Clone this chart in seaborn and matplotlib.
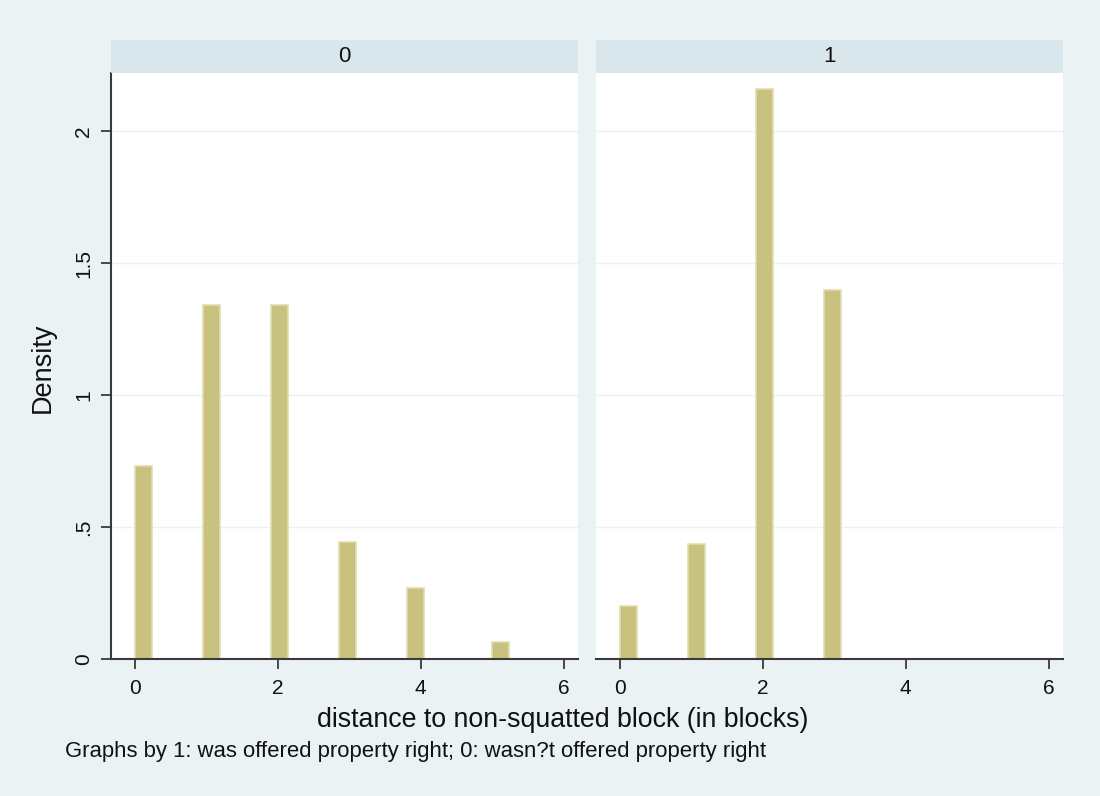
import numpy as np
import pandas as pd
import seaborn as sns
import matplotlib
matplotlib.use("Agg")
import matplotlib.pyplot as plt
from matplotlib.patches import Rectangle

# Density of distance (in blocks) for each offer group
groups = ["0", "0", "0", "0", "0", "0", "1", "1", "1", "1"]
distance = [0, 1, 2, 3, 4, 5, 0, 1, 2, 3]
density = [0.73, 1.342, 1.342, 0.443, 0.269, 0.064, 0.201, 0.437, 2.158, 1.397]

x_ticks = [0, 2, 4, 6]
y_ticks = [0, 0.5, 1, 1.5, 2]
y_tick_labels = ["0", ".5", "1", "1.5", "2"]

df = pd.DataFrame({"group": groups, "distance": distance, "density": density})

BG = "#eaf2f3"
STRIP = "#d9e6eb"
BAR = "#c9c17e"
BAR_EDGE = "#e2ddb0"
AXIS = "#3a3a3a"

sns.set_theme(style="white")
plt.rcParams["font.family"] = ["Liberation Sans", "DejaVu Sans"]

W, H = 1100, 796
fig, axes = plt.subplots(1, 2, figsize=(11, 7.96), dpi=100)
fig.patch.set_facecolor(BG)

panels = [(111, 578), (596, 1063)]
top_px, bot_px = 73, 659
strip_top = 40

# bins of width 5/21 starting at 0; the top value gets its own bin
bw = 5 / 21
n_bins = 22
eps = 1e-6

for i, (ax, (l, r)) in enumerate(zip(axes, panels)):
    key = ["0", "1"][i]
    sub = df[df["group"] == key]
    sns.histplot(data=sub, x="distance", weights="density", stat="count",
                 bins=n_bins, binrange=(-eps, n_bins * bw - eps),
                 color=BAR, edgecolor=BAR_EDGE, linewidth=1.2, alpha=1, ax=ax)

    ax.set_position([l / W, 1 - bot_px / H, (r - l) / W, (bot_px - top_px) / H])
    ax.set_facecolor("white")
    ax.set_xlim(-0.33, 6.2)
    ax.set_ylim(0, 2.22)
    ax.set_xticks(x_ticks)
    ax.set_xticklabels([str(t) for t in x_ticks], fontsize=15)
    ax.set_yticks(y_ticks)
    ax.grid(axis="y", color=BG, linewidth=1.0)
    ax.grid(axis="x", visible=False)
    ax.set_axisbelow(True)
    ax.set_title("")
    ax.set_xlabel("")
    ax.set_ylabel("")
    for s in ["top", "right"]:
        ax.spines[s].set_visible(False)
    ax.spines["bottom"].set_color(AXIS)
    ax.spines["bottom"].set_linewidth(1.5)
    ax.tick_params(axis="x", direction="out", length=7, width=1.3,
                   color=AXIS, pad=7.5, labelcolor="#111111", bottom=True)
    if i == 0:
        ax.spines["left"].set_color(AXIS)
        ax.spines["left"].set_linewidth(1.5)
        ax.set_yticklabels(y_tick_labels, fontsize=15, rotation=90, va="center")
        ax.tick_params(axis="y", direction="out", length=7, width=1.3,
                       color=AXIS, pad=6, labelcolor="#111111", left=True)
    else:
        ax.spines["left"].set_visible(False)
        ax.tick_params(axis="y", left=False, labelleft=False)

    # panel header strip
    fig.patches.append(Rectangle((l / W, 1 - top_px / H), (r - l) / W,
                                 (top_px - strip_top) / H,
                                 transform=fig.transFigure, facecolor=STRIP,
                                 edgecolor="none", zorder=0))
    fig.text((l + r) / 2 / W, 1 - 56 / H,
             key, ha="center", va="center", fontsize=16, color="#111111")

fig.text(43 / W, 1 - 368 / H, "Density", rotation=90, ha="center",
         va="center", fontsize=19.5, color="#111111")
fig.text(563 / W, 1 - 720 / H, "distance to non-squatted block (in blocks)",
         ha="center", va="center", fontsize=19.3, color="#111111")
fig.text(65 / W, 1 - 752 / H,
         "Graphs by 1: was offered property right; 0: wasn?t offered property right",
         ha="left", va="center", fontsize=15.9, color="#111111")

fig.savefig("out.png", dpi=100, facecolor=BG)
